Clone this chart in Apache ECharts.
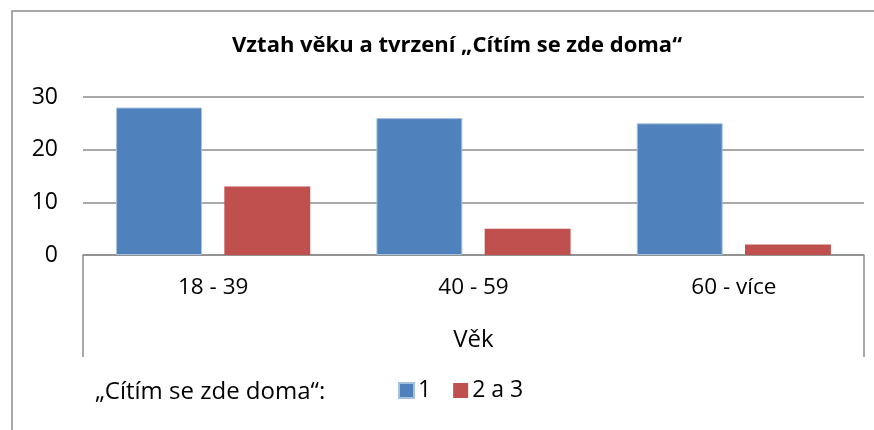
<!DOCTYPE html>
<html>
<head>
<meta charset="utf-8">
<script src="https://cdn.jsdelivr.net/npm/echarts@6/dist/echarts.min.js"></script>
<style>
  html, body { margin: 0; padding: 0; background: #fff; }
  #chart { width: 874px; height: 430px; }
</style>
</head>
<body>
<div id="chart"></div>
<script>
// data
const categories = ['18 - 39', '40 - 59', '60 - více'];
const seriesNames = ['1', '2 a 3'];
const values1 = [28, 26, 25];
const values23 = [13, 5, 2];
const yTicks = [0, 10, 20, 30];

const FONT = '"Open Sans", sans-serif';
const chart = echarts.init(document.getElementById('chart'));

const options = {
  animation: false,
  title: [
    {
      text: 'Vztah věku a tvrzení „Cítím se zde doma“',
      left: 452,
      textAlign: 'center',
      top: 30,
      textStyle: { fontFamily: FONT, fontSize: 22, fontWeight: 'bold', color: '#000' }
    },
    {
      text: '„Cítím se zde doma“:',
      left: 90,
      top: 375,
      textStyle: { fontFamily: FONT, fontSize: 24, fontWeight: 'normal', color: '#000' }
    }
  ],
  legend: {
    data: seriesNames,
    left: 398,
    top: 379,
    padding: 0,
    itemWidth: 15,
    itemHeight: 15,
    itemGap: 22,
    icon: 'rect',
    textStyle: { fontFamily: FONT, fontSize: 23, color: '#000', padding: [0, 0, 0, -1] }
  },
  grid: { left: 83, right: 10, top: 97, bottom: 175 },
  xAxis: {
    type: 'category',
    data: categories,
    name: 'Věk',
    nameLocation: 'middle',
    nameGap: 73,
    nameTextStyle: { fontFamily: FONT, fontSize: 24, color: '#000' },
    axisLine: { lineStyle: { color: '#8c8c8c', width: 1.5 } },
    axisTick: { show: false },
    axisLabel: { margin: 21, fontFamily: FONT, fontSize: 22.5, color: '#000' }
  },
  yAxis: {
    type: 'value',
    min: yTicks[0],
    max: yTicks[yTicks.length - 1],
    interval: 10,
    axisLine: { show: false },
    axisTick: { show: false },
    axisLabel: { margin: 25, fontFamily: FONT, fontSize: 23, color: '#000' },
    splitLine: { lineStyle: { color: '#8c8c8c', width: 1.5 } }
  },
  series: [
    {
      name: seriesNames[0],
      type: 'bar',
      data: values1,
      barWidth: '33%',
      barGap: '26%',
      itemStyle: { color: '#4F81BD', borderColor: '#a7c0de', borderWidth: 1 }
    },
    {
      name: seriesNames[1],
      type: 'bar',
      data: values23,
      barWidth: '33%',
      itemStyle: { color: '#C0504D' }
    }
  ],
  graphic: [
    // outer chart frame
    { type: 'rect', shape: { x: 12, y: 11, width: 900, height: 500 }, style: { fill: 'none', stroke: '#8c8c8c', lineWidth: 1.5 }, silent: true },
    // category box sides
    { type: 'line', shape: { x1: 83, y1: 255, x2: 83, y2: 357 }, style: { stroke: '#8c8c8c', lineWidth: 1.5 }, silent: true },
    { type: 'line', shape: { x1: 864, y1: 255, x2: 864, y2: 357 }, style: { stroke: '#8c8c8c', lineWidth: 1.5 }, silent: true }
  ]
};

chart.setOption(options);
</script>
</body>
</html>
